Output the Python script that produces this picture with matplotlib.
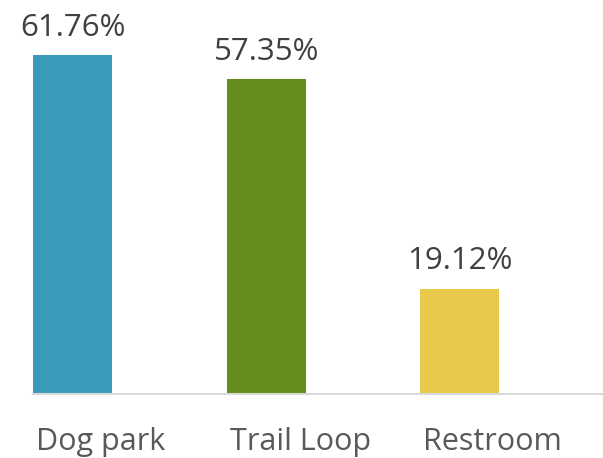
import matplotlib
matplotlib.use("Agg")
import matplotlib.pyplot as plt

categories = ["Dog park", "Trail Loop", "Restroom"]
values = [61.76, 57.35, 19.12]
colors = ["#3a9ab9", "#668c1f", "#e8c94a"]

plt.rcParams['font.family'] = ['Open Sans', 'DejaVu Sans']

fig = plt.figure(figsize=(6.03, 4.58), dpi=100)
W, H = 603, 458
left, right = 33, 603
base, top = 393.5, 0
spacing = 193.5
ax = fig.add_axes([left / W, (H - base) / H, (right - left) / W, (base - top) / H])

x = list(range(len(categories)))
bw = 0.41
ax.bar(x, values, width=bw, color=colors)
ax.set_xlim(-bw / 2, -bw / 2 + (right - left) / spacing)
ax.set_ylim(0, values[0] * (base - top) / (base - 55))

for s in ["top", "right", "left"]:
    ax.spines[s].set_visible(False)
ax.spines["bottom"].set_color("#d9d9d9")
ax.spines["bottom"].set_linewidth(1.5)
ax.set_yticks([])
ax.set_xticks([xi - bw / 2 + 3 / spacing for xi in x])
ax.set_xticklabels(categories, fontsize=22, color="#595959", ha="left")
ax.tick_params(axis="x", length=0, pad=24)

for xi, v in zip(x, values):
    ax.annotate(f"{v:.2f}%", (xi, v), xytext=(0, 9), textcoords="offset points",
                ha="center", va="bottom", fontsize=22.5, color="#404040")

fig.savefig("out.png", dpi=100)
